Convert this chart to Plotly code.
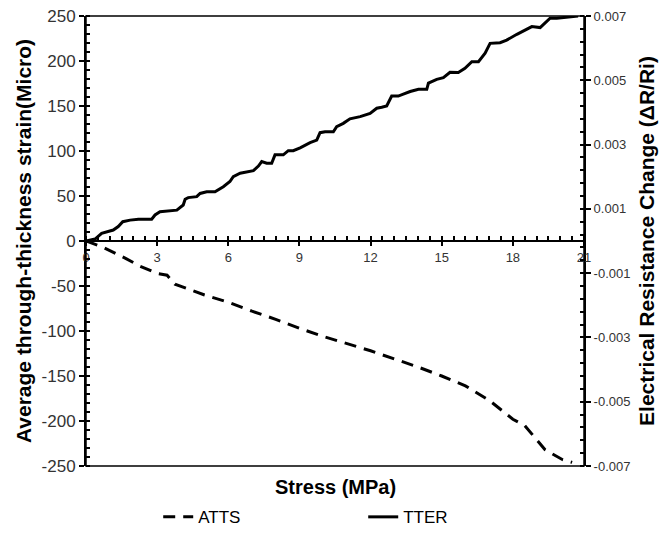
import plotly.graph_objects as go

# ---- data ----
tter_stress = [0, 0.38, 0.66, 1.15, 1.36, 1.55, 1.86, 2.21, 2.77, 2.91, 3.12, 3.47, 3.83, 4.10, 4.18,
               4.31, 4.67, 4.81, 5.09, 5.44, 5.79, 6.07, 6.21, 6.50, 6.78, 7.06, 7.27, 7.41, 7.62,
               7.83, 7.97, 8.32, 8.53, 8.74, 9.03, 9.45, 9.73, 9.87, 10.08, 10.43, 10.57, 10.85,
               11.13, 11.56, 11.98, 12.26, 12.47, 12.68, 12.89, 13.17, 13.38, 13.67, 14.02, 14.37,
               14.44, 14.79, 15.07, 15.21, 15.35, 15.70, 15.98, 16.27, 16.55, 16.83, 17.04, 17.46,
               17.74, 18.17, 18.52, 18.80, 19.15, 19.36, 19.57, 19.85, 20.41, 20.75]
tter_dr = [0, 0.00006, 0.00024, 0.00034, 0.00045, 0.00060, 0.00065, 0.00068, 0.00068, 0.00081,
           0.00091, 0.00094, 0.00096, 0.00112, 0.00130, 0.00135, 0.00138, 0.00148, 0.00153, 0.00153,
           0.00169, 0.00185, 0.00200, 0.00211, 0.00216, 0.00219, 0.00233, 0.00247, 0.00242, 0.00242,
           0.00268, 0.00268, 0.00281, 0.00281, 0.00290, 0.00306, 0.00314, 0.00337, 0.00340, 0.00340,
           0.00356, 0.00366, 0.00380, 0.00387, 0.00397, 0.00413, 0.00416, 0.00420, 0.00451, 0.00451,
           0.00457, 0.00465, 0.00472, 0.00472, 0.00491, 0.00503, 0.00508, 0.00516, 0.00525, 0.00524,
           0.00537, 0.00558, 0.00558, 0.00584, 0.00615, 0.00617, 0.00625, 0.00643, 0.00656, 0.00667,
           0.00664, 0.00677, 0.00693, 0.00693, 0.00698, 0.00700]

atts_stress = [0, 0.72, 1.65, 2.28, 3.00, 3.42, 3.75, 4.18, 4.60, 5.00, 6.00, 7.00, 8.00, 9.00,
               10.00, 11.00, 12.00, 13.00, 14.00, 15.00, 16.00, 17.00, 18.00, 18.50, 19.36,
               20.10, 20.50]
atts_strain = [0, -7, -19, -28, -36, -38, -48, -52, -56, -60, -68, -78, -87, -97,
               -106, -114, -122, -131, -140, -150, -161, -177, -198, -205, -232,
               -243, -246]

x_ticks = [0, 3, 6, 9, 12, 15, 18, 21]
left_ticks = [-250, -200, -150, -100, -50, 0, 50, 100, 150, 200, 250]
left_labels = ["-250", "-200", "-150", "-100", "-50", "0", "50", "100", "150", "200", "250"]
right_ticks = [-0.007, -0.005, -0.003, -0.001, 0.001, 0.003, 0.005, 0.007]
right_labels = ["-0.007", "-0.005", "-0.003", "-0.001", "0.001", "0.003", "0.005", "0.007"]

FONT = "Liberation Sans, Arial, sans-serif"
TICKC = "#333333"

fig = go.Figure()
fig.add_trace(go.Scatter(x=atts_stress, y=atts_strain, name="ATTS", mode="lines",
                         line=dict(color="black", width=3, dash="12px,8px"),
                         xaxis="x", yaxis="y"))
fig.add_trace(go.Scatter(x=tter_stress, y=tter_dr, name="TTER", mode="lines",
                         line=dict(color="black", width=3),
                         xaxis="x", yaxis="y2"))

# plot-area border (top and bottom lines)
fig.add_shape(type="rect", xref="paper", yref="paper", x0=0, x1=1, y0=0, y1=1,
              line=dict(color="black", width=1.5), fillcolor="rgba(0,0,0,0)", layer="above")

fig.add_annotation(text="<b>Stress (MPa)</b>", xref="paper", yref="paper", x=0.5, y=-0.047,
                   xanchor="center", yanchor="middle", showarrow=False,
                   font=dict(size=20, color="black", family=FONT))

fig.update_layout(
    width=670, height=534,
    margin=dict(l=86, r=86, t=16, b=68, autoexpand=False),
    paper_bgcolor="white", plot_bgcolor="white",
    font=dict(family=FONT, color="black"),
    showlegend=True,
    legend=dict(orientation="h", x=0.145, xanchor="left", y=-0.074, yanchor="top",
                font=dict(size=17, color="black"), entrywidth=160, itemwidth=30,
                bgcolor="rgba(0,0,0,0)"),
    xaxis=dict(range=[0, 21], domain=[0, 1], anchor="free", position=0.5, side="bottom",
               automargin=False,
               showline=True, linecolor="black", linewidth=2, showgrid=False, zeroline=False,
               tickmode="array", tickvals=x_ticks, ticks="outside", ticklen=4,
               tickwidth=2, tickcolor="black",
               tickfont=dict(size=13, color=TICKC),
               minor=dict(tickmode="linear", tick0=0, dtick=0.5, ticks="inside", ticklen=4,
                          tickwidth=2, tickcolor="black", showgrid=False)),
    yaxis=dict(range=[-250, 250], domain=[0, 1], anchor="x", automargin=False,
               showline=True, linecolor="black",
               linewidth=2, showgrid=False, zeroline=False,
               tickmode="array", tickvals=left_ticks, ticktext=left_labels,
               ticks="outside", ticklen=5, tickwidth=2, tickcolor="black",
               tickfont=dict(size=17, color=TICKC),
               minor=dict(tickmode="linear", tick0=0, dtick=10, ticks="inside", ticklen=4,
                          tickwidth=2, tickcolor="black", showgrid=False),
               title=dict(text="<b>Average through-thickness strain(Micro)</b>",
                          font=dict(size=21, color="black"), standoff=4)),
    yaxis2=dict(range=[-0.007, 0.007], overlaying="y", side="right", anchor="x",
                automargin=False,
                showline=True, linecolor="black", linewidth=2, showgrid=False, zeroline=False,
                tickmode="array", tickvals=right_ticks, ticktext=right_labels,
                ticks="outside", ticklen=5, tickwidth=2, tickcolor="black",
                tickfont=dict(size=13, color=TICKC),
                minor=dict(tickmode="linear", tick0=-0.007, dtick=0.0004, ticks="inside",
                           ticklen=4, tickwidth=2, tickcolor="black", showgrid=False),
                title=dict(text="<b>Electrical Resistance Change (ΔR/Ri)</b>",
                           font=dict(size=21, color="black"), standoff=10)),
)

fig.write_html("out.html", config={"displayModeBar": False},
               post_script="document.body.style.margin='0px';document.body.style.overflow='hidden';")
